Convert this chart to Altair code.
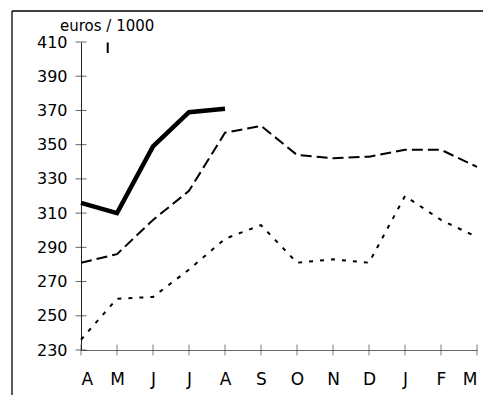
import altair as alt
import pandas as pd

months = ["A", "M", "J", "J", "A", "S", "O", "N", "D", "J", "F", "M"]
series_solid = [316, 310, 349, 369, 371]
series_dashed = [281, 286, 306, 323, 357, 361, 344, 342, 343, 347, 347, 337]
series_dotted = [236, 260, 261, 277, 295, 303, 281, 283, 281, 320, 306, 296]
y_ticks = [230, 250, 270, 290, 310, 330, 350, 370, 390, 410]
unit_label = "euros / 1000"

W, H = 396, 308
FONT = "DejaVu Sans"

df_solid = pd.DataFrame({"i": list(range(len(series_solid))), "v": series_solid})
df_dashed = pd.DataFrame({"i": list(range(len(series_dashed))), "v": series_dashed})
df_dotted = pd.DataFrame({"i": list(range(len(series_dotted))), "v": series_dotted})
df_xt = pd.DataFrame({"i": list(range(len(months))), "v": [y_ticks[0]] * len(months)})
df_yt = pd.DataFrame({"i": [0] * len(y_ticks), "v": y_ticks})
one = pd.DataFrame({"t": [unit_label]})

label_expr = "[" + ",".join(f"'{m}'" for m in months) + "][datum.value]"

xscale = alt.Scale(domain=[0, len(months) - 1], nice=False, zero=False)
yscale = alt.Scale(domain=[y_ticks[0], y_ticks[-1]], nice=False, zero=False)

x_axis = alt.Axis(values=list(range(len(months))), labelExpr=label_expr, title=None,
                  grid=False, ticks=False, tickSize=0, domainColor="#666666",
                  labelFont=FONT, labelFontSize=17, labelColor="black", labelPadding=21)
y_axis = alt.Axis(values=y_ticks, title=None, grid=False, ticks=False, tickSize=0,
                  domainColor="#222222", labelFont=FONT, labelFontSize=16,
                  labelColor="black", labelPadding=14)

X = alt.X("i:Q", scale=xscale, axis=x_axis)
Y = alt.Y("v:Q", scale=yscale, axis=y_axis)

dashed = alt.Chart(df_dashed).mark_line(color="black", strokeWidth=2, strokeDash=[11, 5]).encode(x=X, y=Y)
dotted = alt.Chart(df_dotted).mark_line(color="black", strokeWidth=2, strokeDash=[4, 7]).encode(x=X, y=Y)
solid = alt.Chart(df_solid).mark_line(color="black", strokeWidth=4.5).encode(x=X, y=Y)

xt = alt.Chart(df_xt).mark_tick(orient="vertical", size=11, thickness=1, color="#444444").encode(x=X, y=Y)
yt = alt.Chart(df_yt).mark_tick(orient="horizontal", size=11, thickness=1, color="#222222").encode(x=X, y=Y)

unit = alt.Chart(one).mark_text(align="left", baseline="middle", font=FONT, fontSize=15,
                                color="black").encode(
    x=alt.value(-21), y=alt.value(-16), text="t:N")
mark_i = alt.Chart(one).mark_rule(color="black", strokeWidth=2).encode(
    x=alt.value(26.7), y=alt.value(0.5), y2=alt.value(11))
frame_top = alt.Chart(one).mark_rule(color="black", strokeWidth=1.3).encode(
    x=alt.value(-69), x2=alt.value(W + 20), y=alt.value(-31))
frame_left = alt.Chart(one).mark_rule(color="black", strokeWidth=1.3).encode(
    x=alt.value(-69), y=alt.value(-31), y2=alt.value(H + 60))

chart = alt.layer(dashed, dotted, solid, xt, yt, unit, mark_i, frame_top, frame_left).properties(
    width=W, height=H,
    autosize=alt.AutoSizeParams(type="none"),
    padding={"left": 73, "top": 34, "right": 6, "bottom": 45},
    background="white",
).configure_view(stroke=None)

chart.save("out.html", embed_options={"renderer": "svg", "actions": False})
